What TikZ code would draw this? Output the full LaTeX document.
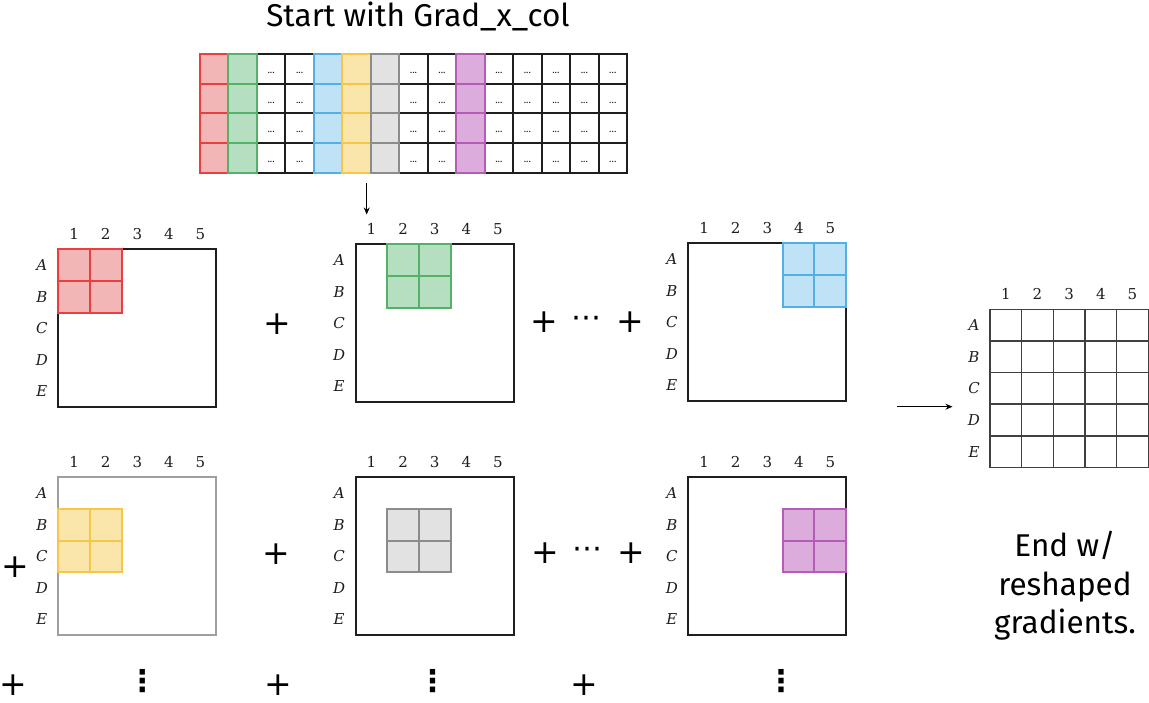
\documentclass[tikz,border=0pt]{standalone}
\usepackage{fontspec}
\setsansfont{Fira Sans}
\newfontfamily\djv{DejaVu Sans}
\newfontfamily\labfont{DejaVu Serif}
\usetikzlibrary{arrows.meta}
\definecolor{redF}{RGB}{242,182,182}\definecolor{redD}{RGB}{232,64,64}
\definecolor{grnF}{RGB}{182,222,192}\definecolor{grnD}{RGB}{84,178,104}
\definecolor{bluF}{RGB}{192,226,246}\definecolor{bluD}{RGB}{82,176,228}
\definecolor{yelF}{RGB}{250,230,170}\definecolor{yelD}{RGB}{246,198,72}
\definecolor{gryF}{RGB}{226,226,226}\definecolor{gryD}{RGB}{140,140,140}
\definecolor{purF}{RGB}{220,172,220}\definecolor{purD}{RGB}{182,92,182}
\definecolor{ink}{RGB}{30,30,30}
\tikzset{
  boxline/.style={line width=2.2pt},
  patchline/.style={line width=2pt},
  matline/.style={line width=2pt, draw=ink},
  lab/.style={inner sep=0pt, font=\labfont\fontsize{15}{18}\selectfont, text=ink},
  plus/.style={inner sep=0pt, font=\djv\fontsize{33}{36}\selectfont, text=black},
  hdots/.style={inner sep=0pt, font=\djv\fontsize{30}{36}\selectfont, text=black},
  vdotsn/.style={inner sep=0pt, font=\djv\bfseries\fontsize{30}{34}\selectfont, text=black},
  celldots/.style={inner sep=0pt, font=\sffamily\fontsize{10}{10}\selectfont, text=ink},
  bigtext/.style={inner sep=0pt, font=\sffamily\fontsize{31.5}{38}\selectfont, text=black},
  arr/.style={line width=1.3pt, -{Stealth[length=7pt,width=6pt]}}
}
% grid box with labels: name, x, y, border colour
\newcommand{\labgrid}[4]{%
  \draw[boxline, draw=#4] (#2,#3) rectangle ++(158,158);
  \foreach \k in {1,...,5}{
    \node[lab] (#1c\k) at ({#2+(\k-0.5)*31.6},{#3-15}) {\k};
  }
  \foreach \k/\L in {1/A,2/B,3/C,4/D,5/E}{
    \node[lab] (#1r\k) at ({#2-16.5},{#3+(\k-0.5)*31.6}) {\itshape\L};
  }
}
% 2x2 patch: x, y, fill, draw
\newcommand{\patchsq}[4]{%
  \draw[patchline, fill=#3, draw=#4] (#1,#2) rectangle ++(63.2,63.2);
  \draw[patchline, draw=#4] ({#1+31.6},#2) -- ++(0,63.2) (#1,{#2+31.6}) -- ++(63.2,0);
}
\begin{document}
\begin{tikzpicture}[x=1pt,y=-1pt]
\useasboundingbox (0,0) rectangle (1149,702);
\fill[white] (0,0) rectangle (1149,702);

% title
\node[bigtext, anchor=base] (title) at (418,26.7) {Start with Grad\_x\_col};

% top matrix
\def\cw{28.47}\def\rh{29.67}
\foreach \i in {0,...,14}{
  \foreach \j in {0,...,3}{
    \draw[matline] ({200+\i*\cw},{54+\j*\rh}) rectangle ++(\cw,\rh);
  }
}
\foreach \i in {2,3,7,8,10,11,12,13,14}{
  \foreach \j in {0,...,3}{
    \node[celldots] (d\i-\j) at ({200+(\i+0.5)*\cw},{54+(\j+0.5)*\rh+4}) {...};
  }
}
\foreach \i/\f/\d in {0/redF/redD,1/grnF/grnD,4/bluF/bluD,5/yelF/yelD,6/gryF/gryD,9/purF/purD}{
  \foreach \j in {0,...,3}{
    \draw[patchline, fill=\f, draw=\d] ({200+\i*\cw},{54+\j*\rh}) rectangle ++(\cw,\rh);
  }
}

% arrow down
\coordinate (a1s) at (366.7,182.7);
\coordinate (a1e) at (366.7,214.5);
\draw[arr] (a1s) -- (a1e);

% row 1 grids
\labgrid{ga}{58.3}{249.3}{ink}
\patchsq{58.3}{249.3}{redF}{redD}
\labgrid{gb}{355.7}{244.3}{ink}
\patchsq{387.3}{244.3}{grnF}{grnD}
\labgrid{gc}{688.3}{243.3}{ink}
\patchsq{782.5}{243.3}{bluF}{bluD}

% row 2 grids
\labgrid{gd}{58.3}{477.3}{gray!75}
\patchsq{58.3}{508.9}{yelF}{yelD}
\labgrid{ge}{355.7}{477.3}{ink}
\patchsq{387.3}{508.9}{gryF}{gryD}
\labgrid{gf}{688.3}{477.3}{ink}
\patchsq{782.5}{508.9}{purF}{purD}

% result grid
\foreach \k in {0,...,5}{
  \draw[line width=1.6pt, draw=ink!85] ({990+\k*31.66},309.3) -- ++(0,158.3);
  \draw[line width=1.6pt, draw=ink!85] (990,{309.3+\k*31.66}) -- ++(158.3,0);
}
\foreach \k in {1,...,5}{
  \node[lab] (rc\k) at ({990+(\k-0.5)*31.66},294.3) {\k};
}
\foreach \k/\L in {1/A,2/B,3/C,4/D,5/E}{
  \node[lab] (rr\k) at (974,{309.3+(\k-0.5)*31.66}) {\itshape\L};
}

% right arrow
\coordinate (a2s) at (897.3,406.7);
\coordinate (a2e) at (952.5,406.7);
\draw[arr] (a2s) -- (a2e);

% plus signs and dots
\node[plus] (p1) at (277,324) {+};
\node[plus] (p2) at (544,322.3) {+};
\node[hdots] (h1) at (586,322.3) {⋯};
\node[plus] (p3) at (630,322.3) {+};
\node[plus] (p4) at (15,566.7) {+};
\node[plus] (p5) at (276.7,554.3) {+};
\node[plus] (p6) at (545,553.3) {+};
\node[hdots] (h2) at (587,553.3) {⋯};
\node[plus] (p7) at (631.7,553.3) {+};
\node[plus] (p8) at (13.3,685.5) {+};
\node[plus] (p9) at (278.3,685) {+};
\node[plus] (p10) at (584.3,685) {+};
\node[vdotsn] (v1) at (142.3,681) {⋮};
\node[vdotsn] (v2) at (432.7,681) {⋮};
\node[vdotsn] (v3) at (781,681) {⋮};

% end text
\node[bigtext, anchor=base] (endt1) at (1065,556.7) {End w/};
\node[bigtext, anchor=base] (endt2) at (1065,595) {reshaped};
\node[bigtext, anchor=base] (endt3) at (1065,633.3) {gradients.};
\end{tikzpicture}
\end{document}
